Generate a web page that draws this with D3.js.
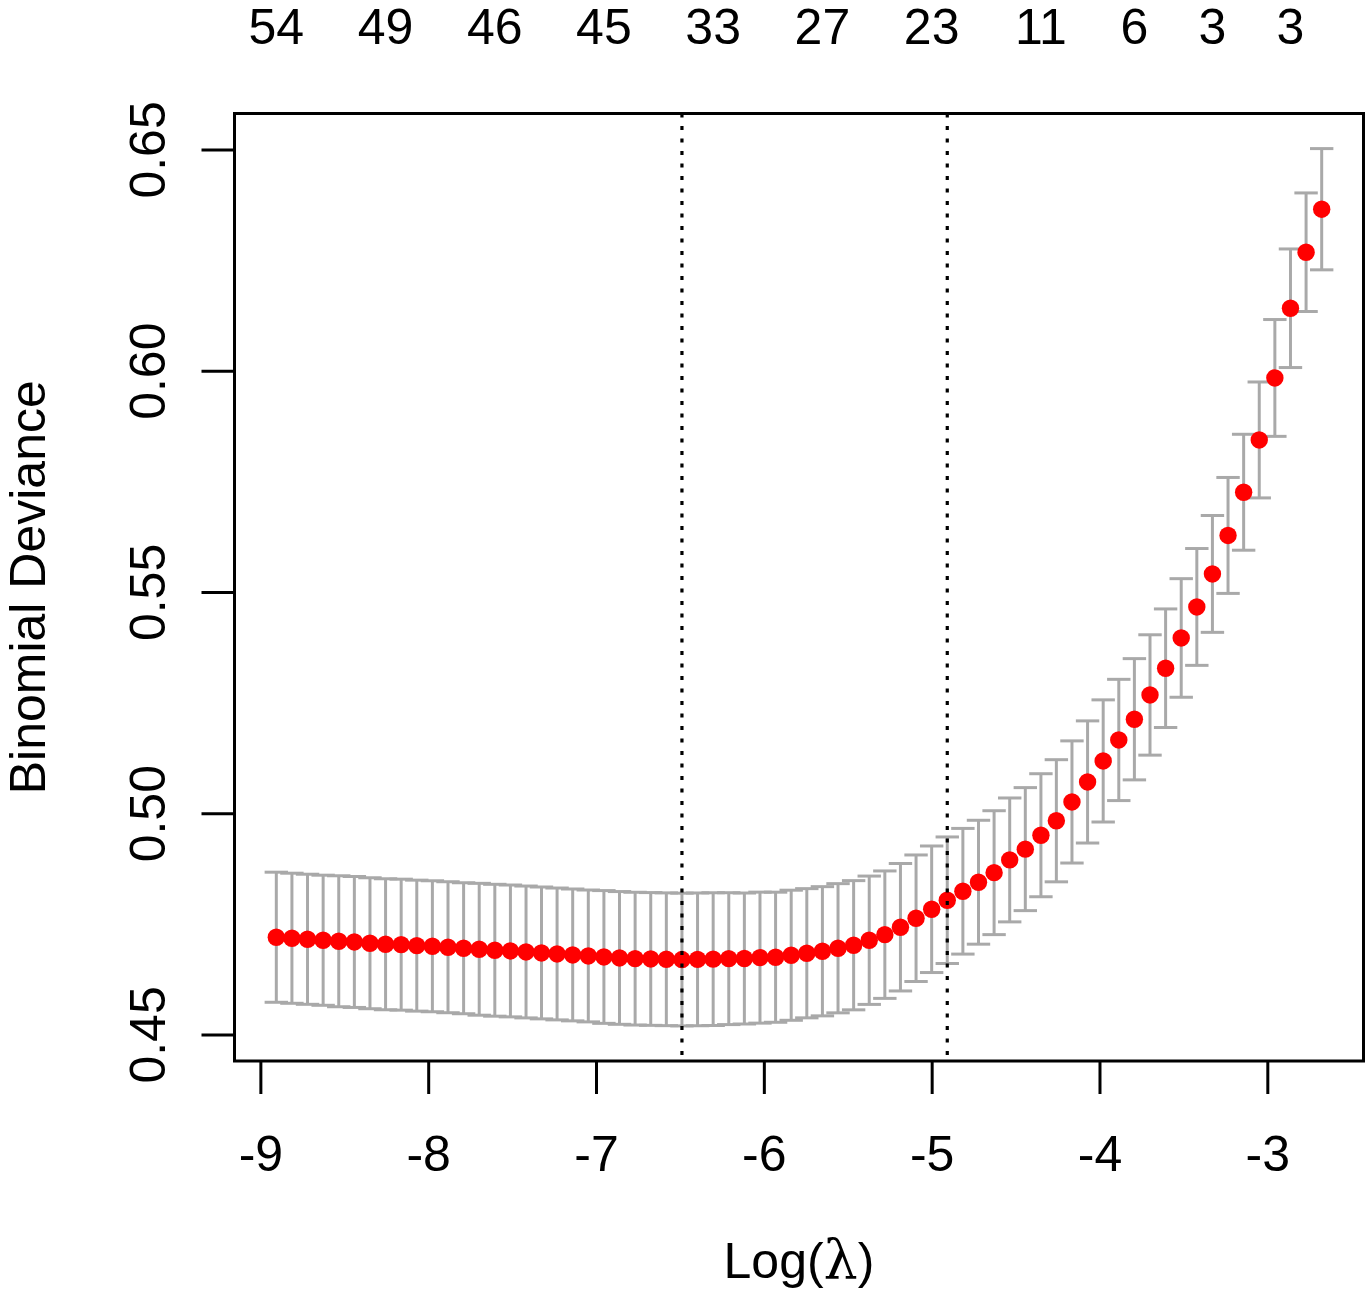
<!DOCTYPE html>
<html>
<head>
<meta charset="utf-8">
<script src="https://cdn.jsdelivr.net/npm/d3@7"></script>
<style>
    body { margin: 0; background: #ffffff; }
    text { font-family: "Liberation Sans", Arial, sans-serif; fill: #000000; }
</style>
</head>
<body>
<div id="chartDiv"></div>
<script>
"use strict";

// cross validation curve, one entry per lambda on the path
var logLambda = [
    -8.905, -8.812, -8.719, -8.626, -8.533, -8.440, -8.347, -8.254, -8.161, -8.068,
    -7.975, -7.882, -7.789, -7.696, -7.603, -7.510, -7.417, -7.325, -7.232, -7.139,
    -7.046, -6.953, -6.860, -6.767, -6.674, -6.581, -6.488, -6.395, -6.302, -6.209,
    -6.116, -6.023, -5.930, -5.837, -5.744, -5.651, -5.558, -5.465, -5.372, -5.279,
    -5.186, -5.093, -5.000, -4.907, -4.814, -4.721, -4.628, -4.535, -4.442, -4.349,
    -4.257, -4.164, -4.071, -3.978, -3.885, -3.792, -3.699, -3.606, -3.513, -3.420,
    -3.327, -3.234, -3.141, -3.048, -2.955, -2.862, -2.769, -2.676
];

// mean binomial deviance
var cvm = [
    0.47197, 0.47174, 0.47151, 0.47129, 0.47106, 0.47090, 0.47061, 0.47038, 0.47029, 0.47007,
    0.46993, 0.46971, 0.46948, 0.46925, 0.46903, 0.46887, 0.46864, 0.46842, 0.46819, 0.46797,
    0.46774, 0.46751, 0.46729, 0.46713, 0.46706, 0.46699, 0.46693, 0.46697, 0.46702, 0.46713,
    0.46716, 0.46736, 0.46745, 0.46790, 0.46835, 0.46880, 0.46948, 0.47016, 0.47129, 0.47255,
    0.47423, 0.47626, 0.47829, 0.48033, 0.48236, 0.48440, 0.48656, 0.48944, 0.49188, 0.49502,
    0.49829, 0.50254, 0.50706, 0.51181, 0.51655, 0.52123, 0.52672, 0.53276, 0.53960, 0.54661,
    0.55407, 0.56277, 0.57253, 0.58435, 0.59836, 0.61411, 0.62677, 0.63649
];

// standard error of the deviance
var cvsd = [
    0.0147, 0.0147, 0.0147, 0.0147, 0.0148, 0.0148, 0.0148, 0.0148, 0.0148, 0.0148,
    0.0148, 0.0148, 0.0148, 0.0149, 0.0149, 0.0149, 0.0149, 0.0149, 0.0149, 0.0149,
    0.0149, 0.0150, 0.0150, 0.0150, 0.0150, 0.0150, 0.0150, 0.0150, 0.0150, 0.0149,
    0.0148, 0.0148, 0.0147, 0.0147, 0.0146, 0.0146, 0.0146, 0.0146, 0.0145, 0.0144,
    0.0144, 0.0143, 0.0143, 0.0143, 0.0142, 0.0140, 0.0140, 0.0140, 0.0139, 0.0139,
    0.0138, 0.0138, 0.0138, 0.0138, 0.0137, 0.0137, 0.0136, 0.0134, 0.0134, 0.0132,
    0.0132, 0.0131, 0.0131, 0.0131, 0.0132, 0.0134, 0.0134, 0.0137
];

// number of nonzero coefficients shown on the top axis (index into the lambda path)
var topIdx = [0, 7, 14, 21, 28, 35, 42, 49, 55, 60, 65];
var nzLabels = ["54", "49", "46", "45", "33", "27", "23", "11", "6", "3", "3"];

// lambda.min and lambda.1se
var lambdaMin = -6.488;
var lambda1se = -4.907;

var xTicks = [-9, -8, -7, -6, -5, -4, -3];
var yTicks = [0.45, 0.50, 0.55, 0.60, 0.65];

// svg element parameters
var svgWidth = 1370;
var svgHeight = 1296;
var plotLeft = 234.5, plotRight = 1363.5, plotTop = 113.5, plotBottom = 1061;
var fontSize = 50;
var tickLength = 33;
var capHalf = 11.7;
var pointRadius = 8.7;

var svg = d3.select("#chartDiv").append("svg")
    .attr("width", svgWidth).attr("height", svgHeight)
    .style("background", "#ffffff");

// build the point records
var points = logLambda.map(function (d, i) {
    return {x: d, m: cvm[i], up: cvm[i] + cvsd[i], lo: cvm[i] - cvsd[i]};
});

// R style 4% padding on both axes
var xExt = d3.extent(logLambda);
var xPad = (xExt[1] - xExt[0]) * 0.04;
var yExt = [d3.min(points, function (d) {return d.lo;}), d3.max(points, function (d) {return d.up;})];
var yPad = (yExt[1] - yExt[0]) * 0.04;

var x = d3.scaleLinear().domain([xExt[0] - xPad, xExt[1] + xPad]).range([plotLeft, plotRight]);
var y = d3.scaleLinear().domain([yExt[0] - yPad, yExt[1] + yPad]).range([plotBottom, plotTop]);

// error bars
var bars = svg.append("g").attr("class", "errorBars")
    .attr("stroke", "#a9a9a9").attr("stroke-width", 3).attr("fill", "none");

bars.selectAll("line.stem").data(points).enter().append("line")
    .attr("class", "stem")
    .attr("x1", function (d) {return x(d.x);})
    .attr("x2", function (d) {return x(d.x);})
    .attr("y1", function (d) {return y(d.up);})
    .attr("y2", function (d) {return y(d.lo);});

bars.selectAll("line.capUp").data(points).enter().append("line")
    .attr("class", "capUp")
    .attr("x1", function (d) {return x(d.x) - capHalf;})
    .attr("x2", function (d) {return x(d.x) + capHalf;})
    .attr("y1", function (d) {return y(d.up);})
    .attr("y2", function (d) {return y(d.up);});

bars.selectAll("line.capLo").data(points).enter().append("line")
    .attr("class", "capLo")
    .attr("x1", function (d) {return x(d.x) - capHalf;})
    .attr("x2", function (d) {return x(d.x) + capHalf;})
    .attr("y1", function (d) {return y(d.lo);})
    .attr("y2", function (d) {return y(d.lo);});

// mean deviance points
svg.append("g").attr("class", "points").selectAll("circle").data(points).enter()
    .append("circle")
    .attr("cx", function (d) {return x(d.x);})
    .attr("cy", function (d) {return y(d.m);})
    .attr("r", pointRadius)
    .attr("fill", "#ff0000");

// dotted lines at lambda.min and lambda.1se
svg.append("g").attr("class", "vlines").selectAll("line").data([lambdaMin, lambda1se]).enter()
    .append("line")
    .attr("x1", function (d) {return x(d);})
    .attr("x2", function (d) {return x(d);})
    .attr("y1", plotTop)
    .attr("y2", plotBottom)
    .attr("stroke", "#000000")
    .attr("stroke-width", 3.2)
    .attr("stroke-dasharray", "4 8.5");

// plot box
svg.append("rect")
    .attr("x", plotLeft).attr("y", plotTop)
    .attr("width", plotRight - plotLeft).attr("height", plotBottom - plotTop)
    .attr("fill", "none").attr("stroke", "#000000").attr("stroke-width", 3);

// bottom axis
var xAxis = d3.axisBottom(x).tickValues(xTicks).tickSize(tickLength).tickPadding(0)
    .tickFormat(function (d) {return d3.format("d")(d).replace("\u2212", "-");});
var gx = svg.append("g").attr("transform", "translate(0," + plotBottom + ")").call(xAxis);
gx.select(".domain").remove();
gx.selectAll(".tick line").attr("stroke", "#000000").attr("stroke-width", 3);
gx.selectAll(".tick text")
    .attr("y", 110).attr("dy", null)
    .style("font-size", fontSize + "px")
    .style("font-family", "'Liberation Sans', Arial, sans-serif");

// left axis, labels parallel to the axis
var yAxis = d3.axisLeft(y).tickValues(yTicks).tickSize(tickLength).tickFormat(d3.format(".2f"));
var gy = svg.append("g").attr("transform", "translate(" + plotLeft + ",0)").call(yAxis);
gy.select(".domain").remove();
gy.selectAll(".tick line").attr("stroke", "#000000").attr("stroke-width", 3);
gy.selectAll(".tick text")
    .attr("x", null).attr("dy", null)
    .attr("text-anchor", "middle")
    .attr("transform", "translate(-70,0) rotate(-90)")
    .style("font-size", fontSize + "px")
    .style("font-family", "'Liberation Sans', Arial, sans-serif");

// top axis: number of nonzero coefficients
svg.append("g").attr("class", "topAxis").selectAll("text").data(topIdx).enter()
    .append("text")
    .attr("x", function (d) {return x(logLambda[d]);})
    .attr("y", 44)
    .attr("text-anchor", "middle")
    .style("font-size", fontSize + "px")
    .text(function (d, i) {return nzLabels[i];});

// axis titles
var xTitle = svg.append("text")
    .attr("x", (plotLeft + plotRight) / 2)
    .attr("y", 1278)
    .attr("text-anchor", "middle")
    .style("font-size", fontSize + "px");
xTitle.append("tspan").text("Log(");
xTitle.append("tspan")
    .attr("font-family", "'DejaVu Serif', 'Liberation Serif', serif")
    .style("font-family", "'DejaVu Serif', 'Liberation Serif', serif")
    .style("font-size", "54px")
    .text("\u03bb");
xTitle.append("tspan").text(")");

svg.append("text")
    .attr("transform", "translate(45," + (plotTop + plotBottom) / 2 + ") rotate(-90)")
    .attr("text-anchor", "middle")
    .style("font-size", fontSize + "px")
    .text("Binomial Deviance");
</script>
</body>
</html>
